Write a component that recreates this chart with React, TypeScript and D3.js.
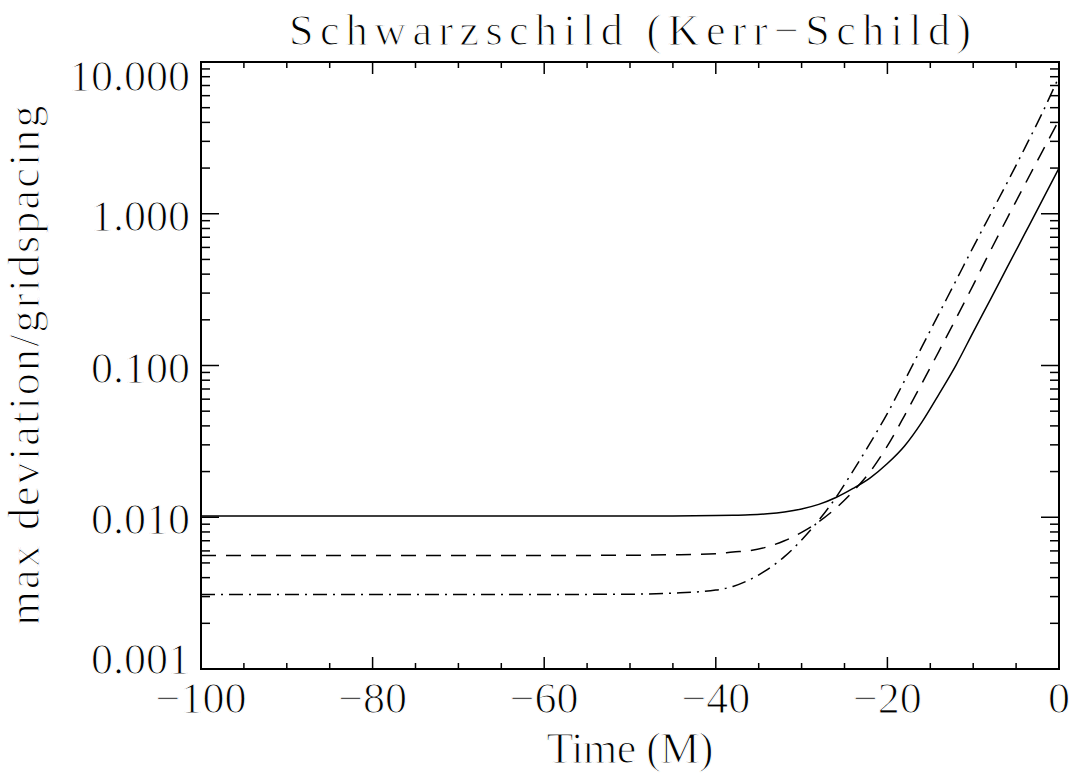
import * as d3 from 'd3';

// time axis (M) and the three curves
const times = [-100, -90, -80, -70, -60, -50, -45, -40, -38, -36, -34, -32, -30, -28, -26, -24, -22, -20, -18, -16, -14, -12, -10, -8, -6, -4, -2, 0];
const solidVals = [0.0102, 0.0102, 0.0102, 0.0102, 0.0102, 0.0102, 0.0102, 0.01026, 0.01031, 0.01037, 0.01054, 0.01084, 0.01135, 0.01216, 0.0135, 0.0155, 0.0182, 0.0226, 0.0295, 0.0422, 0.0646, 0.1007, 0.166, 0.272, 0.448, 0.736, 1.21, 2.0];
const dashedVals = [0.0056, 0.0056, 0.0056, 0.0056, 0.0056, 0.00562, 0.00566, 0.00575, 0.0059, 0.00603, 0.00638, 0.007, 0.00794, 0.00933, 0.01148, 0.0148, 0.02, 0.0295, 0.0468, 0.0759, 0.124, 0.204, 0.339, 0.569, 0.944, 1.55, 2.54, 4.15];
const dashDotVals = [0.0031, 0.0031, 0.0031, 0.0031, 0.0031, 0.00311, 0.00316, 0.00331, 0.0035, 0.00389, 0.00452, 0.0055, 0.00708, 0.00955, 0.0135, 0.0202, 0.0309, 0.0484, 0.0794, 0.132, 0.219, 0.363, 0.603, 0.989, 1.62, 2.7, 4.55, 8.0];

const xMajor = [-100, -80, -60, -40, -20, 0];
const yMajor = [10, 1, 0.1, 0.01, 0.001];
const yLabels = ['10.000', '1.000', '0.100', '0.010', '0.001'];

const W = 1070;
const H = 774;
const m = { left: 201, right: 1059, top: 62, bottom: 669 };
const font = '"Liberation Serif", "Times New Roman", serif';

// thin the glyphs a little with a white outline (the original font is a hairline one)
const thin = { stroke: '#fff', strokeWidth: 1.1 };

export default function App() {
  const x = d3.scaleLinear().domain([-100, 0]).range([m.left, m.right]);
  const y = d3.scaleLog().domain([0.001, 10]).range([m.bottom, m.top]);

  const xMinor = d3.range(-100, 1, 5).filter(v => !xMajor.includes(v));
  const yMinor: number[] = [];
  [0.001, 0.01, 0.1, 1].forEach(d => {
    for (let k = 2; k <= 9; k++) yMinor.push(d * k);
  });

  const line = d3.line<number>()
    .x((d, i) => x(times[i]))
    .y(d => y(d))
    .curve(d3.curveMonotoneX);

  const series = [
    { vals: solidVals, dash: null },
    { vals: dashedVals, dash: '15,10' },
    { vals: dashDotVals, dash: '14,6,2,6' },
  ];

  // end labels sit a little inside the frame, like the original
  const yLabelShift = [14, 2, 2, 2, -10];

  return (
    <svg width={W} height={H} style={{ position: 'absolute', left: 0, top: 0, background: '#fff' }}
      fontFamily={font}>
      <rect width={W} height={H} fill="#fff" />

      <text x={(m.left + m.right) / 2} y={45} fontSize={44} textAnchor="middle" {...thin}
        textLength={682} lengthAdjust="spacing">Schwarzschild (Kerr−Schild)</text>

      {/* curves */}
      {series.map((s, i) => (
        <path key={i} d={line(s.vals) || ''} fill="none" stroke="#000" strokeWidth={1.5}
          strokeDasharray={s.dash || undefined} />
      ))}

      {/* frame */}
      <rect x={m.left} y={m.top} width={m.right - m.left} height={m.bottom - m.top}
        fill="none" stroke="#000" strokeWidth={2} />

      {/* x ticks, bottom and top */}
      {xMajor.map(v => (
        <g key={'xM' + v}>
          <line x1={x(v)} x2={x(v)} y1={m.bottom} y2={m.bottom - 12} stroke="#000" strokeWidth={1.5} />
          <line x1={x(v)} x2={x(v)} y1={m.top} y2={m.top + 12} stroke="#000" strokeWidth={1.5} />
          <text x={x(v)} y={713} fontSize={44} textAnchor="middle" {...thin}>{v < 0 ? '−' + Math.abs(v) : v}</text>
        </g>
      ))}
      {xMinor.map(v => (
        <g key={'xm' + v}>
          <line x1={x(v)} x2={x(v)} y1={m.bottom} y2={m.bottom - 6} stroke="#000" strokeWidth={1.5} />
          <line x1={x(v)} x2={x(v)} y1={m.top} y2={m.top + 6} stroke="#000" strokeWidth={1.5} />
        </g>
      ))}

      {/* y ticks, left and right */}
      {yMajor.map((v, i) => (
        <g key={'yM' + v}>
          <line x1={m.left} x2={m.left + 18} y1={y(v)} y2={y(v)} stroke="#000" strokeWidth={1.5} />
          <line x1={m.right} x2={m.right - 18} y1={y(v)} y2={y(v)} stroke="#000" strokeWidth={1.5} />
          <text x={190} y={y(v) + 15 + yLabelShift[i]} fontSize={44} textAnchor="end" {...thin}>{yLabels[i]}</text>
        </g>
      ))}
      {yMinor.map(v => (
        <g key={'ym' + v}>
          <line x1={m.left} x2={m.left + 9} y1={y(v)} y2={y(v)} stroke="#000" strokeWidth={1.5} />
          <line x1={m.right} x2={m.right - 9} y1={y(v)} y2={y(v)} stroke="#000" strokeWidth={1.5} />
        </g>
      ))}

      <text x={(m.left + m.right) / 2} y={763} fontSize={44} textAnchor="middle" {...thin}
        textLength={167} lengthAdjust="spacing">Time (M)</text>

      <text transform={`translate(39, ${(m.top + m.bottom) / 2}) rotate(-90)`} fontSize={44} {...thin}
        textAnchor="middle" textLength={520} lengthAdjust="spacing">max deviation/gridspacing</text>
    </svg>
  );
}
